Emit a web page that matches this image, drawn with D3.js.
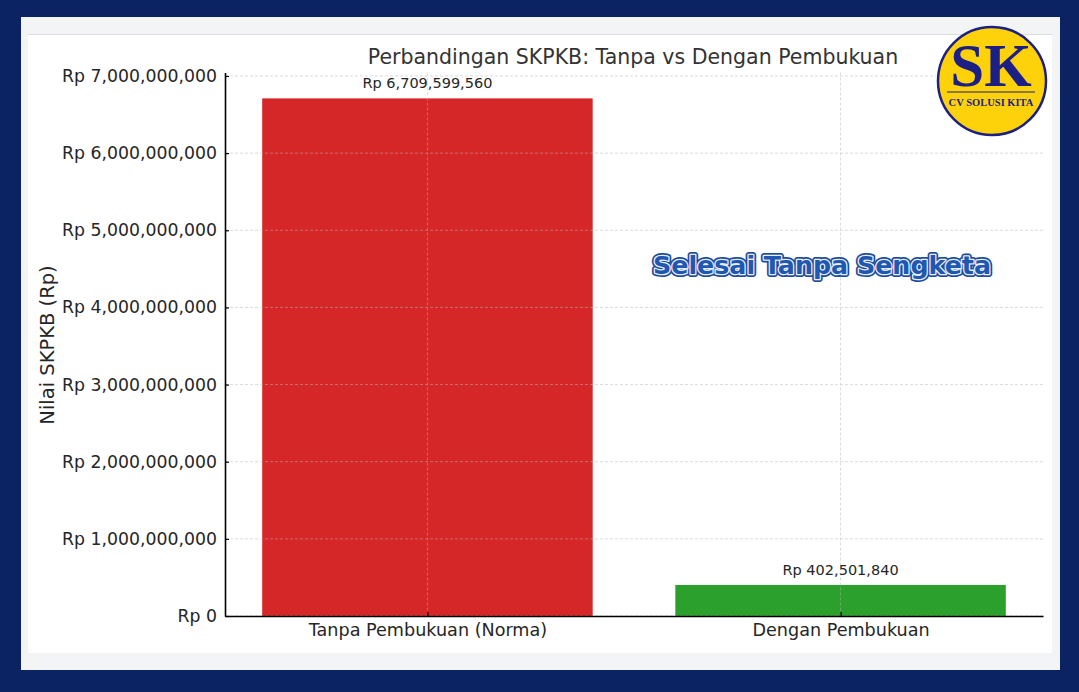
<!DOCTYPE html>
<html><head><meta charset="utf-8">
<script src="https://cdn.jsdelivr.net/npm/d3@7"></script>
<style>html,body{margin:0;padding:0;background:#0b2263;}svg{display:block;}</style>
</head><body>
<script>
const categories = ["Tanpa Pembukuan (Norma)", "Dengan Pembukuan"];
const values = [6709599560, 402501840];
const barColors = ["#d62728", "#2ca02c"];
const yTicks = [0, 1e9, 2e9, 3e9, 4e9, 5e9, 6e9, 7e9];
const titleText = "Perbandingan SKPKB: Tanpa vs Dengan Pembukuan";
const yLabel = "Nilai SKPKB (Rp)";
const stampText = "Selesai Tanpa Sengketa";

(function () {
const W = 1079, H = 692;
const svg = d3.select("body").append("svg").attr("width", W).attr("height", H);
svg.append("rect").attr("width", W).attr("height", H).attr("fill", "#0b2263");
svg.append("rect").attr("x", 21).attr("y", 17).attr("width", 1039).attr("height", 653).attr("fill", "#f3f4f5");
svg.append("rect").attr("x", 28).attr("y", 35).attr("width", 1024).attr("height", 618).attr("fill", "#ffffff");
svg.append("line").attr("x1", 28).attr("x2", 1052).attr("y1", 34.5).attr("y2", 34.5).attr("stroke", "#dcdde0");

const pL = 225, pR = 1043, pT = 72.5, pB = 616;
const fmt = d3.format(",");
const rp = v => "Rp " + fmt(v);

const x = d3.scaleLinear().domain([-0.49, 1.49]).range([pL, pR]);
const y = d3.scaleLinear().domain([0, d3.max(values) * 1.05]).range([pB, pT]);
const bw = x(0.4) - x(-0.4);

const font = "DejaVu Sans, sans-serif";

// bars
svg.selectAll("rect.bar").data(values).enter().append("rect")
  .attr("x", (d, i) => x(i) - bw / 2)
  .attr("y", d => y(d))
  .attr("width", bw)
  .attr("height", d => y(0) - y(d))
  .attr("fill", (d, i) => barColors[i]);

// grid
const grid = svg.append("g").attr("stroke", "#b8b8b8").attr("stroke-width", 0.8)
  .attr("stroke-dasharray", "3,2").attr("opacity", 0.6);
yTicks.forEach(t => grid.append("line").attr("x1", pL).attr("x2", pR)
  .attr("y1", y(t)).attr("y2", y(t)));
categories.forEach((c, i) => grid.append("line").attr("x1", x(i)).attr("x2", x(i))
  .attr("y1", pT).attr("y2", pB));

// axes
const yAxis = d3.axisLeft(y).tickValues(yTicks).tickFormat(rp).tickSizeInner(-4).tickSizeOuter(0).tickPadding(8);
const gy = svg.append("g").attr("transform", `translate(${pL},0)`).call(yAxis);
gy.select(".domain").attr("stroke", "#000").attr("stroke-width", 1.6);
gy.selectAll(".tick line").attr("stroke", "#000").attr("stroke-width", 1.2);
gy.selectAll(".tick text").attr("font-family", font).attr("font-size", 17.3).attr("fill", "#262626");

const xAxis = d3.axisBottom(x).tickValues([0, 1]).tickFormat((d) => categories[d]).tickSizeInner(-4).tickSizeOuter(0).tickPadding(8);
const gx = svg.append("g").attr("transform", `translate(0,${pB})`).call(xAxis);
gx.select(".domain").attr("stroke", "#000").attr("stroke-width", 1.6);
gx.selectAll(".tick line").attr("stroke", "#000").attr("stroke-width", 1.2);
gx.selectAll(".tick text").attr("font-family", font).attr("font-size", 17.6).attr("fill", "#262626");

// value labels
svg.selectAll("text.val").data(values).enter().append("text")
  .attr("x", (d, i) => x(i)).attr("y", d => y(d) - 10)
  .attr("text-anchor", "middle").attr("font-family", font).attr("font-size", 14.5)
  .attr("fill", "#262626").text(d => rp(d));

// title
svg.append("text").attr("x", 633).attr("y", 64).attr("text-anchor", "middle")
  .attr("font-family", font).attr("font-size", 20.5).attr("fill", "#333").text(titleText);

// y label
svg.append("text").attr("transform", "translate(54,345) rotate(-90)").attr("text-anchor", "middle")
  .attr("font-family", font).attr("font-size", 19.5).attr("fill", "#262626").text(yLabel);

// stamp text
const st = svg.append("g").attr("font-family", "DejaVu Sans, sans-serif").attr("font-weight", "bold")
  .attr("font-size", 25);
const addStamp = (stroke, sw, fill) => st.append("text").attr("x", 822).attr("y", 274)
  .attr("text-anchor", "middle").attr("textLength", 338).attr("lengthAdjust", "spacingAndGlyphs")
  .attr("fill", fill).attr("stroke", stroke).attr("stroke-width", sw).attr("stroke-linejoin", "round")
  .text(stampText);
addStamp("#1b4b9a", 6, "#1b4b9a");
addStamp("#e8eef8", 2.6, "#e8eef8");
addStamp("none", 0, "#1f58b0");

// logo
const lg = svg.append("g");
lg.append("circle").attr("cx", 992).attr("cy", 81).attr("r", 54).attr("fill", "#fdd20a")
  .attr("stroke", "#1c1f86").attr("stroke-width", 2.5);
lg.append("text").attr("x", 991).attr("y", 86).attr("text-anchor", "middle")
  .attr("font-family", "Liberation Serif, serif").attr("font-weight", "bold").attr("font-size", 61)
  .attr("fill", "#1c1f86").text("SK");
lg.append("line").attr("x1", 947).attr("x2", 1035).attr("y1", 92).attr("y2", 92)
  .attr("stroke", "#1c1f86").attr("stroke-width", 1.2);
lg.append("text").attr("x", 991).attr("y", 106).attr("text-anchor", "middle")
  .attr("font-family", "Liberation Serif, serif").attr("font-weight", "bold").attr("font-size", 10.5)
  .attr("fill", "#1c1f86").text("CV SOLUSI KITA");
})();
</script>
</body></html>
